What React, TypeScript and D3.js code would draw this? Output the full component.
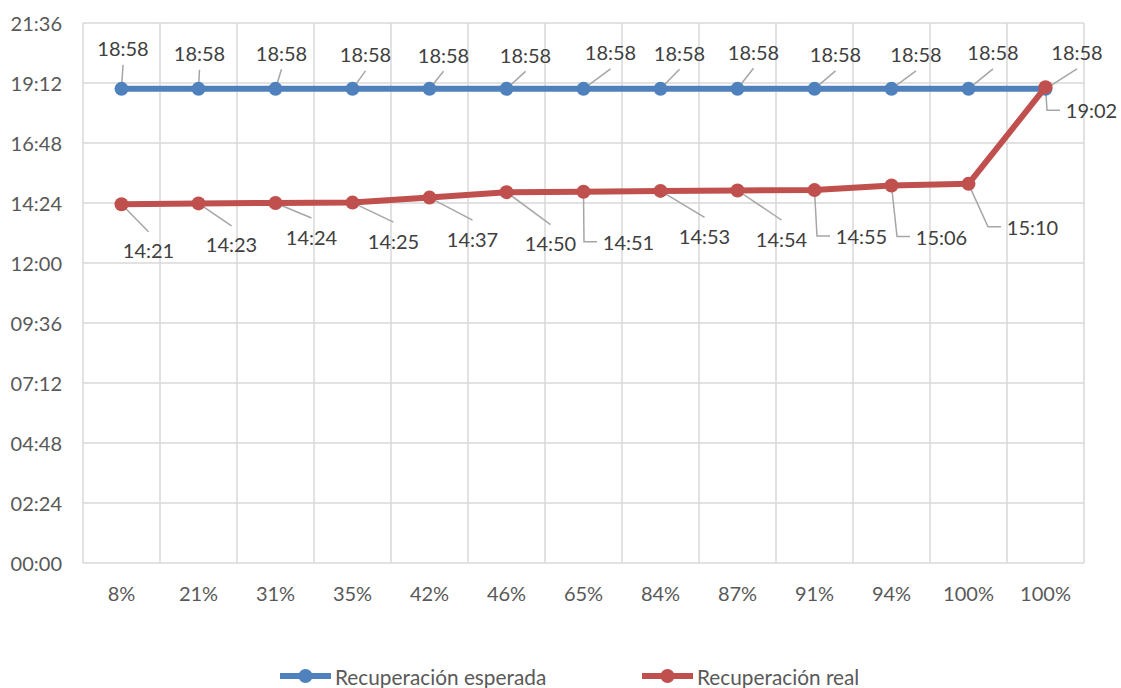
import React from 'react';
import * as d3 from 'd3';

// ---- data ----
const categories = ['8%', '21%', '31%', '35%', '42%', '46%', '65%', '84%', '87%', '91%', '94%', '100%', '100%'];
const expectedTimes = ['18:58', '18:58', '18:58', '18:58', '18:58', '18:58', '18:58', '18:58', '18:58', '18:58', '18:58', '18:58', '18:58'];
const realTimes = ['14:21', '14:23', '14:24', '14:25', '14:37', '14:50', '14:51', '14:53', '14:54', '14:55', '15:06', '15:10', '19:02'];
const yTickLabels = ['00:00', '02:24', '04:48', '07:12', '09:36', '12:00', '14:24', '16:48', '19:12', '21:36'];
const seriesNames = ['Recuperación esperada', 'Recuperación real'];

// ---- label placement (style, not data) ----
const blueLabelOffsets: [number, number][] = [
  [1.5, -40.5], [1, -35.5], [6, -36], [13, -34.5], [14, -34], [19, -34], [27, -36.5],
  [19, -36], [16, -37], [21, -34.5], [24.5, -34.5], [24.5, -36.5], [31.5, -36.5],
];
const redLabelOffsets: [number, number][] = [
  [27, 46], [33, 41], [36, 33.5], [41, 38], [43, 41], [44, 51], [45, 50],
  [44, 45], [44, 48], [47, 46], [50, 51], [64, 43], [46, 23],
];
const redLeaderTypes = ['top', 'top', 'top', 'top', 'top', 'top', 'elbow', 'top', 'top', 'elbow', 'elbow', 'elbow', 'elbow'];

const W = 1121;
const H = 688;
const FONT = 'Lato, "Open Sans", sans-serif';
const BLUE = '#4F81BD';
const RED = '#C0504D';
const GRID = '#D9D9D9';
const LEADER = '#A6A6A6';

const toMin = (s: string) => {
  const [h, m] = s.split(':').map(Number);
  return h * 60 + m;
};

export default function App() {
  const x = d3.scaleBand<number>().domain(categories.map((_, i) => i)).range([83, 1084]).padding(0);
  const yMax = toMin(yTickLabels[yTickLabels.length - 1]);
  const y = d3.scaleLinear().domain([0, yMax]).range([563, 23]);
  const cx = (i: number) => (x(i) as number) + x.bandwidth() / 2;

  const line = d3.line<number>().x((_, i) => cx(i)).y((d) => y(d));
  const expVals = expectedTimes.map(toMin);
  const realVals = realTimes.map(toMin);

  const halfW = 25.5;

  return (
    <svg width={W} height={H} style={{ position: 'absolute', left: 0, top: 0, background: '#fff' }} fontFamily={FONT}>
      {/* horizontal gridlines */}
      {yTickLabels.map((t) => (
        <line key={'h' + t} x1={83} x2={1084} y1={y(toMin(t))} y2={y(toMin(t))} stroke={GRID} strokeWidth={1.5} />
      ))}
      {/* vertical gridlines */}
      {categories.map((_, i) => (
        <line key={'v' + i} x1={x(i) as number} x2={x(i) as number} y1={23} y2={563} stroke={GRID} strokeWidth={1.5} />
      ))}
      <line x1={1084} x2={1084} y1={23} y2={563} stroke={GRID} strokeWidth={1.5} />

      {/* y tick labels */}
      {yTickLabels.map((t) => (
        <text key={'yt' + t} x={62} y={y(toMin(t))} textAnchor="end" dominantBaseline="central" fontSize={20} fill="#595959">
          {t}
        </text>
      ))}
      {/* x tick labels */}
      {categories.map((c, i) => (
        <text key={'xt' + i} x={cx(i)} y={593} textAnchor="middle" dominantBaseline="central" fontSize={20} fill="#595959">
          {c}
        </text>
      ))}

      {/* blue leaders */}
      {expVals.map((v, i) => {
        const px = cx(i), py = y(v);
        const lx = px + blueLabelOffsets[i][0], ly = py + blueLabelOffsets[i][1];
        return <line key={'bl' + i} x1={lx} y1={ly + 16.5} x2={px} y2={py} stroke={LEADER} strokeWidth={1.5} />;
      })}
      {/* red leaders */}
      {realVals.map((v, i) => {
        const px = cx(i), py = y(v);
        const lx = px + redLabelOffsets[i][0], ly = py + redLabelOffsets[i][1];
        if (redLeaderTypes[i] === 'elbow') {
          const left = lx - halfW;
          return (
            <polyline key={'rl' + i} points={`${px},${py} ${left - 19},${ly} ${left - 6},${ly}`} fill="none" stroke={LEADER} strokeWidth={1.5} />
          );
        }
        return <line key={'rl' + i} x1={px} y1={py} x2={lx} y2={ly - 18.5} stroke={LEADER} strokeWidth={1.5} />;
      })}

      {/* series lines */}
      <path d={line(expVals) || ''} fill="none" stroke={BLUE} strokeWidth={6} strokeLinejoin="round" />
      {expVals.map((v, i) => (
        <circle key={'bm' + i} cx={cx(i)} cy={y(v)} r={7} fill={BLUE} />
      ))}
      <path d={line(realVals) || ''} fill="none" stroke={RED} strokeWidth={6} strokeLinejoin="round" />
      {realVals.map((v, i) => (
        <circle key={'rm' + i} cx={cx(i)} cy={y(v)} r={7} fill={RED} />
      ))}

      {/* data labels */}
      {expectedTimes.map((t, i) => (
        <text key={'bt' + i} x={cx(i) + blueLabelOffsets[i][0]} y={y(expVals[i]) + blueLabelOffsets[i][1]} textAnchor="middle" dominantBaseline="central" fontSize={20} fill="#404040">
          {t}
        </text>
      ))}
      {realTimes.map((t, i) => (
        <text key={'rt' + i} x={cx(i) + redLabelOffsets[i][0]} y={y(realVals[i]) + redLabelOffsets[i][1]} textAnchor="middle" dominantBaseline="central" fontSize={20} fill="#404040">
          {t}
        </text>
      ))}

      {/* legend */}
      {[{ c: BLUE, x0: 280 }, { c: RED, x0: 642 }].map((l, i) => (
        <g key={'lg' + i}>
          <line x1={l.x0} x2={l.x0 + 51} y1={676} y2={676} stroke={l.c} strokeWidth={6} />
          <circle cx={l.x0 + 25.5} cy={676} r={7} fill={l.c} />
          <text x={l.x0 + 55} y={676} dominantBaseline="central" fontSize={20.8} fill="#595959">
            {seriesNames[i]}
          </text>
        </g>
      ))}
    </svg>
  );
}
